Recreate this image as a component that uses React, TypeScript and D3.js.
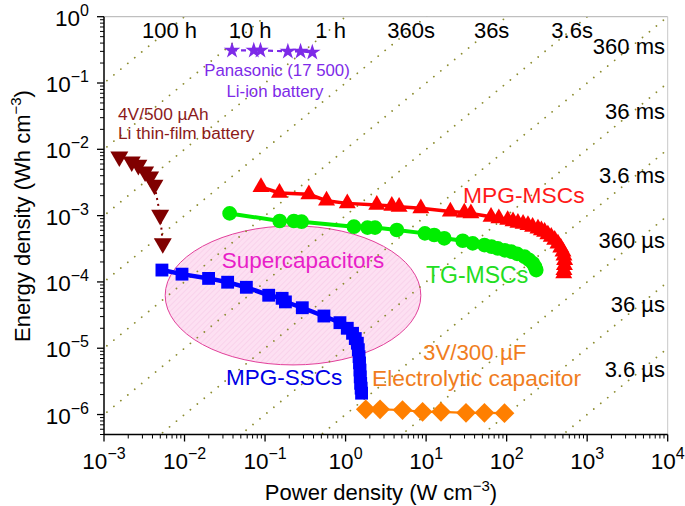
import React from 'react';
import * as d3 from 'd3';

const W = 685;
const H = 506;
const PL = 104, PR = 667.7, PT = 16.7, PB = 434.5;

const xDomain = [1e-3, 1e4];
const yDomain = [5e-7, 1];
const xMajorExp = [-3, -2, -1, 0, 1, 2, 3, 4];
const yMajorExp = [-6, -5, -4, -3, -2, -1, 0];

// constant discharge-time lines (hours)
const timeHours = [100, 10, 1, 0.1, 0.01, 0.001, 1e-4, 1e-5, 1e-6, 1e-7, 1e-8, 1e-9];
const timeLabels = ['100 h', '10 h', '1 h', '360s', '36s', '3.6s', '360 ms', '36 ms', '3.6 ms', '360 \u00b5s', '36 \u00b5s', '3.6 \u00b5s'];

// Panasonic Li-ion battery
const liIonPower = [0.0389, 0.0724, 0.0877, 0.192, 0.276, 0.386];
const liIonEnergy = [0.31, 0.31, 0.31, 0.30, 0.30, 0.29];

// Li thin-film battery
const thinFilmPower = [1.55e-3, 2.21e-3, 2.67e-3, 3.24e-3, 3.74e-3, 4.23e-3, 4.98e-3, 5.37e-3];
const thinFilmEnergy = [7.76e-3, 6.5e-3, 5.79e-3, 4.59e-3, 3.86e-3, 2.9e-3, 1.02e-3, 3.82e-4];

// MPG-MSCs
const mpgMscPower = [0.089, 0.151, 0.35, 0.58, 1.05, 2.44, 3.75, 4.62, 8.6, 20, 29.8, 36, 64, 80, 103, 120, 138, 160, 184, 210, 245, 270, 296, 325, 358, 395, 434, 470, 501, 515, 525, 522, 515, 512];
const mpgMscEnergy = [2.7e-3, 2.2e-3, 2.1e-3, 1.68e-3, 1.53e-3, 1.45e-3, 1.40e-3, 1.36e-3, 1.29e-3, 1.15e-3, 1.11e-3, 1.08e-3, 9.6e-4, 9.1e-4, 8.6e-4, 8.2e-4, 7.8e-4, 7.5e-4, 7.2e-4, 6.8e-4, 6.4e-4, 6.0e-4, 5.7e-4, 5.2e-4, 4.8e-4, 4.3e-4, 3.8e-4, 3.3e-4, 2.86e-4, 2.5e-4, 2.14e-4, 1.8e-4, 1.51e-4, 1.35e-4];

// TG-MSCs
const tgMscPower = [0.0363, 0.152, 0.228, 0.284, 1.27, 1.87, 2.32, 4.33, 9.66, 12.6, 16.8, 28.5, 37.9, 53, 65, 77.6, 95, 114, 135, 167, 190, 212, 225, 233];
const tgMscEnergy = [1.08e-3, 8.3e-4, 8.3e-4, 8.1e-4, 6.8e-4, 6.6e-4, 6.6e-4, 6.07e-4, 5.4e-4, 5.1e-4, 4.55e-4, 4.18e-4, 3.82e-4, 3.6e-4, 3.4e-4, 3.2e-4, 3.0e-4, 2.86e-4, 2.65e-4, 2.4e-4, 2.15e-4, 1.91e-4, 1.7e-4, 1.51e-4];

// MPG-SSCs
const mpgSscPower = [5.24e-3, 9.3e-3, 0.0199, 0.0343, 0.0586, 0.111, 0.163, 0.179, 0.29, 0.538, 0.851, 1.05, 1.22, 1.32, 1.40, 1.44, 1.47, 1.49, 1.51, 1.52, 1.54, 1.56, 1.58];
const mpgSscEnergy = [1.51e-4, 1.31e-4, 1.13e-4, 9.9e-5, 8.3e-5, 6.3e-5, 5.66e-5, 5.0e-5, 4.08e-5, 3.06e-5, 2.43e-5, 2.0e-5, 1.68e-5, 1.4e-5, 1.19e-5, 9.5e-6, 7.45e-6, 6.0e-6, 4.69e-6, 3.7e-6, 2.96e-6, 2.5e-6, 2.1e-6];

// Electrolytic capacitor
const elecPower = [1.78, 2.68, 5.09, 9.04, 15.3, 31.3, 53, 94];
const elecEnergy = [1.2e-6, 1.2e-6, 1.17e-6, 1.10e-6, 1.10e-6, 1.06e-6, 1.06e-6, 1.05e-6];

// Supercapacitors region (ellipse bounds)
const ellipsePower = [5.75e-3, 8.6];
const ellipseEnergy = [5.6e-6, 7.0e-4];

const FONT = "'Liberation Sans', Arial, Helvetica, sans-serif";

export default function App() {
  const x = d3.scaleLog().domain(xDomain).range([PL, PR]);
  const y = d3.scaleLog().domain(yDomain).range([PB, PT]);

  const line = d3.line<[number, number]>().x(d => x(d[0])).y(d => y(d[1]));
  const zip = (a: number[], b: number[]) => a.map((v, i) => [v, b[i]] as [number, number]);

  const xMinor: number[] = [];
  for (let e = -3; e < 4; e++) for (let k = 2; k <= 9; k++) xMinor.push(k * Math.pow(10, e));
  const yMinor: number[] = [];
  for (let e = -7; e < 0; e++) for (let k = 1; k <= 9; k++) {
    const v = k * Math.pow(10, e);
    if (v >= 5e-7 && v <= 1 && k !== 1) yMinor.push(v);
  }

  const sym = (type: any, size: number) => d3.symbol().type(type).size(size)() as string;
  const triUp = sym(d3.symbolTriangle, 125);
  const triDown = sym(d3.symbolTriangle, 140);
  const circ = sym(d3.symbolCircle, 170);
  const sq = sym(d3.symbolSquare, 165);
  const diam = sym(d3.symbolSquare, 195);
  const star = sym(d3.symbolStar, 85);

  const exX1 = x(ellipsePower[0]), exX2 = x(ellipsePower[1]);
  const eyY1 = y(ellipseEnergy[1]), eyY2 = y(ellipseEnergy[0]);

  const sup = (e: number) => (e < 0 ? '\u2212' + Math.abs(e) : String(e));

  return (
    <svg width={W} height={H} style={{ position: 'absolute', left: 0, top: 0, background: '#fff' }} fontFamily={FONT}>
      <defs>
        <clipPath id="plotClip">
          <rect x={PL} y={PT} width={PR - PL} height={PB - PT} />
        </clipPath>
        <pattern id="hatch" width="4" height="4" patternUnits="userSpaceOnUse" patternTransform="rotate(45)">
          <rect width="4" height="4" fill="#fde0f2" />
          <line x1="0" y1="0" x2="0" y2="4" stroke="#f5c4e5" strokeWidth="1" />
        </pattern>
      </defs>
      <rect x={0} y={0} width={W} height={H} fill="#fff" />

      {/* ellipse */}
      <ellipse cx={(exX1 + exX2) / 2} cy={(eyY1 + eyY2) / 2} rx={(exX2 - exX1) / 2} ry={(eyY2 - eyY1) / 2}
        fill="url(#hatch)" stroke="#e2409a" strokeWidth={1} />

      {/* time lines */}
      <g clipPath="url(#plotClip)">
        {timeHours.map((t, i) => (
          <path key={i} d={line([[1e-4, t * 1e-4], [1e5, t * 1e5]]) as string}
            fill="none" stroke="#8c8c30" strokeWidth={1.8} strokeDasharray="0.01 9" strokeLinecap="round" />
        ))}
      </g>

      {/* frame */}
      <line x1={PL} y1={PT} x2={PR} y2={PT} stroke="#b0b0b0" strokeWidth={1} />
      <line x1={PR} y1={PT} x2={PR} y2={PB} stroke="#c8c8c8" strokeWidth={1} />

      {/* series */}
      <path d={line(zip(liIonPower, liIonEnergy)) as string} fill="none" stroke="#7d2ae8" strokeWidth={2.2} strokeDasharray="5 4" />
      {liIonPower.map((p, i) => (
        <path key={i} d={star} transform={`translate(${x(p)},${y(liIonEnergy[i])})`} fill="#7d2ae8" />
      ))}

      <path d={line(zip(thinFilmPower, thinFilmEnergy)) as string} fill="none" stroke="#800000" strokeWidth={2} strokeDasharray="2 4" />
      {thinFilmPower.map((p, i) => (
        <path key={i} d={triDown} transform={`translate(${x(p)},${y(thinFilmEnergy[i])}) rotate(180)`} fill="#800000" />
      ))}

      <path d={line(zip(mpgMscPower, mpgMscEnergy)) as string} fill="none" stroke="#ff0000" strokeWidth={3.5} />
      {mpgMscPower.map((p, i) => (
        <path key={i} d={triUp} transform={`translate(${x(p)},${y(mpgMscEnergy[i])})`} fill="#ff0000" />
      ))}

      <path d={line(zip(tgMscPower, tgMscEnergy)) as string} fill="none" stroke="#00ee00" strokeWidth={4} />
      {tgMscPower.map((p, i) => (
        <path key={i} d={circ} transform={`translate(${x(p)},${y(tgMscEnergy[i])})`} fill="#00ee00" />
      ))}

      <path d={line(zip(mpgSscPower, mpgSscEnergy)) as string} fill="none" stroke="#0000ff" strokeWidth={4.5} />
      {mpgSscPower.map((p, i) => (
        <path key={i} d={sq} transform={`translate(${x(p)},${y(mpgSscEnergy[i])})`} fill="#0000ff" />
      ))}

      <path d={line(zip(elecPower, elecEnergy)) as string} fill="none" stroke="#ff7f00" strokeWidth={2.2} />
      {elecPower.map((p, i) => (
        <path key={i} d={diam} transform={`translate(${x(p)},${y(elecEnergy[i])}) rotate(45)`} fill="#ff7f00" />
      ))}

      {/* axes */}
      <line x1={PL} y1={PB} x2={PR} y2={PB} stroke="#000" strokeWidth={1.5} />
      <line x1={PL} y1={PT} x2={PL} y2={PB} stroke="#000" strokeWidth={1.5} />
      {xMajorExp.map(e => (
        <g key={e}>
          <line x1={x(Math.pow(10, e))} x2={x(Math.pow(10, e))} y1={PB} y2={PB + 7} stroke="#000" strokeWidth={1.3} />
          <text x={x(Math.pow(10, e))} y={468.5} textAnchor="middle" fontSize={22.5} fill="#000">
            10<tspan fontSize={16} dy={-10}>{sup(e)}</tspan>
          </text>
        </g>
      ))}
      {xMinor.map((v, i) => (
        <line key={i} x1={x(v)} x2={x(v)} y1={PB} y2={PB + 4} stroke="#000" strokeWidth={1} />
      ))}
      {yMajorExp.map(e => (
        <g key={e}>
          <line x1={PL - 7} x2={PL} y1={y(Math.pow(10, e))} y2={y(Math.pow(10, e))} stroke="#000" strokeWidth={1.3} />
          <text x={89} y={y(Math.pow(10, e)) + 9} textAnchor="end" fontSize={22.5} fill="#000">
            10<tspan fontSize={16} dy={-10}>{sup(e)}</tspan>
          </text>
        </g>
      ))}
      {yMinor.map((v, i) => (
        <line key={i} x1={PL - 4} x2={PL} y1={y(v)} y2={y(v)} stroke="#000" strokeWidth={1} />
      ))}

      {/* axis titles */}
      <text x={381} y={500} textAnchor="middle" fontSize={22} fill="#000">
        Power density (W cm<tspan fontSize={15} dy={-9}>{'\u22123'}</tspan><tspan dy={9}>)</tspan>
      </text>
      <text transform={`translate(30,216) rotate(-90)`} textAnchor="middle" fontSize={22} fill="#000">
        Energy density (Wh cm<tspan fontSize={15} dy={-9}>{'\u22123'}</tspan><tspan dy={9}>)</tspan>
      </text>

      {/* time labels */}
      {timeLabels.map((lab, i) => {
        const t = timeHours[i];
        if (i < 6) {
          return (
            <text key={i} x={x(1 / t) - 15} y={38} textAnchor="middle" fontSize={22} fill="#000">{lab}</text>
          );
        }
        return (
          <text key={i} x={665} y={y(t * 1e4) + 30 - 1.8 * (i - 6) + 7.5} textAnchor="end" fontSize={22} fill="#000">{lab}</text>
        );
      })}

      {/* series labels */}
      <text x={277} y={76} textAnchor="middle" fontSize={16.8} fill="#7d2ae8">Panasonic (17 500)</text>
      <text x={275} y={96.7} textAnchor="middle" fontSize={16.8} fill="#7d2ae8">Li-ion battery</text>
      <text x={118} y={120} fontSize={17.3} fill="#8b1a1a">4V/500 {'\u00b5'}Ah</text>
      <text x={118} y={139.3} fontSize={17.3} fill="#8b1a1a">Li thin-film battery</text>
      <text x={221.7} y={268.3} fontSize={22.5} fill="#e81ec8">Supercapacitors</text>
      <text x={226} y={385} fontSize={22.5} fill="#0000e6">MPG-SSCs</text>
      <text x={463} y={203.3} fontSize={22.8} fill="#ff1a1a">MPG-MSCs</text>
      <text x={426} y={283.3} fontSize={23} fill="#22dd22">TG-MSCs</text>
      <text x={423} y={360} fontSize={22.3} fill="#f07d1e">3V/300 {'\u00b5'}F</text>
      <text x={372} y={386} fontSize={22.8} fill="#f07d1e">Electrolytic capacitor</text>
    </svg>
  );
}
